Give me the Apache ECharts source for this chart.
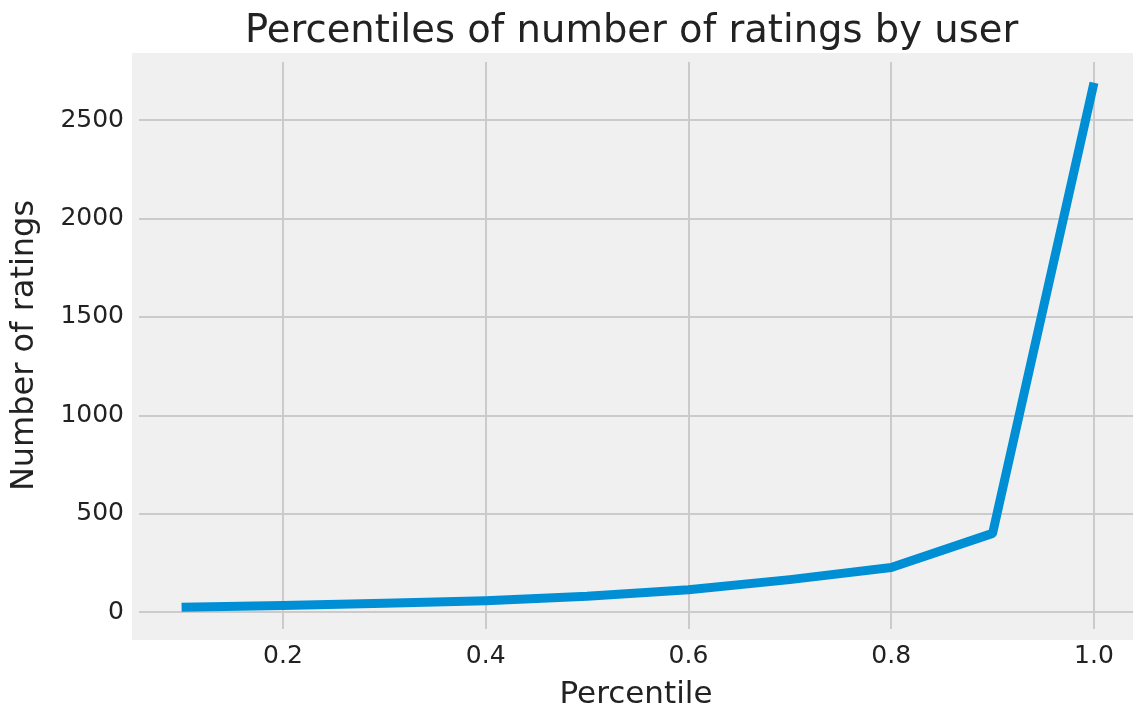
<!DOCTYPE html>
<html>
<head>
<meta charset="utf-8">
<script src="https://cdn.jsdelivr.net/npm/echarts@6/dist/echarts.min.js"></script>
<style>
html,body{margin:0;padding:0;background:#fff;}
#main{width:1133px;height:715px;}
</style>
</head>
<body>
<div id="main"></div>
<script>
// percentile -> number of ratings
var percentiles = [0.1, 0.2, 0.3, 0.4, 0.5, 0.6, 0.7, 0.8, 0.9, 1.0];
var ratingCounts = [25, 34, 45, 58, 80, 114, 165, 227, 400, 2690];
var xTicks = [0.2, 0.4, 0.6, 0.8, 1.0];
var yTicks = [0, 500, 1000, 1500, 2000, 2500];

var myChart = echarts.init(document.getElementById('main'));

var font = 'DejaVu Sans';
var points = [];
for (var i = 0; i < percentiles.length; i++) {
	points.push([percentiles[i], ratingCounts[i]]);
}

var options = {
	animation: false,
	backgroundColor: '#ffffff',
	title: {
		text: 'Percentiles of number of ratings by user',
		left: 240,
		top: 7,
		textStyle: { fontFamily: font, fontSize: 38.5, fontWeight: 'normal', color: '#222' }
	},
	// grey panel behind the plot
	graphic: [{
		type: 'rect',
		z: -10,
		shape: { x: 132, y: 53, width: 1001, height: 587 },
		style: { fill: '#f0f0f0' }
	}],
	grid: { left: 139, right: 0, top: 62, bottom: 83 },
	xAxis: {
		type: 'value',
		min: 0.058,
		max: 1.0385,
		name: 'Percentile',
		nameLocation: 'middle',
		nameGap: 50,
		nameTextStyle: { fontFamily: font, fontSize: 31, color: '#222' },
		axisLine: { show: false },
		axisTick: { show: false, customValues: xTicks },
		axisLabel: {
			customValues: xTicks,
			margin: 15,
			fontFamily: font, fontSize: 25, color: '#222',
			formatter: function (v) { return v.toFixed(1); }
		},
		splitLine: { show: true, lineStyle: { color: '#cbcbcb', width: 2 } }
	},
	yAxis: {
		type: 'value',
		min: -86,
		max: 2796,
		name: 'Number of ratings',
		nameLocation: 'middle',
		nameGap: 98,
		nameTextStyle: { fontFamily: font, fontSize: 32, color: '#222' },
		axisLine: { show: false },
		axisTick: { show: false, customValues: yTicks },
		axisLabel: {
			customValues: yTicks,
			margin: 15,
			fontFamily: font, fontSize: 25, color: '#222',
			formatter: function (v) { return String(v); }
		},
		splitLine: { show: true, lineStyle: { color: '#cbcbcb', width: 2 } }
	},
	series: [{
		type: 'line',
		data: points,
		symbol: 'none',
		lineStyle: { color: '#008fd5', width: 9, cap: 'butt', join: 'round' }
	}]
};
myChart.setOption(options);
</script>
</body>
</html>
